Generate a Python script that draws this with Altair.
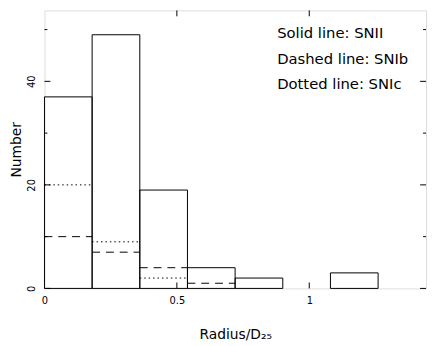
import altair as alt
import pandas as pd

# Histogram bins (Radius/D25)
bin_start = [0.0, 0.18, 0.36, 0.54, 0.72, 0.90, 1.08]
bin_end = [0.18, 0.36, 0.54, 0.72, 0.90, 1.08, 1.26]
snii = [37, 49, 19, 4, 2, 0, 3]
snib = [10, 7, 4, 1, 0, 0, 0]
snic = [20, 9, 2, 0, 0, 0, 0]

legend_lines = ["Solid line: SNII", "Dashed line: SNIb", "Dotted line: SNIc"]

y_major = [0, 20, 40]
y_minor = [10, 30, 50]
x_major = [0.5, 1.0]

XMAX = 1.441
YMAX = 53.71
W, H = 387, 282
FONT = "DejaVu Sans"

df = pd.DataFrame({"x0": bin_start, "x1": bin_end, "SNII": snii, "SNIb": snib, "SNIc": snic})
df_ii = df[df["SNII"] > 0]
df_ib = df[df["SNIb"] > 0]
df_ic = df[df["SNIc"] > 0]

xs = alt.Scale(domain=[0, XMAX], nice=False, zero=False)
ys = alt.Scale(domain=[0, YMAX], nice=False, zero=False)

xaxis = alt.Axis(values=[0, 0.5, 1], labelExpr="datum.value == 0 ? '0' : datum.value == 1 ? '1' : '0.5'",
                 ticks=False, tickSize=0, domain=False, grid=False, labelFontSize=10,
                 labelFont=FONT, labelColor="black", labelPadding=7, labelFlush=False,
                 title="Radius/D₂₅", titleFont=FONT, titleFontSize=14, titleFontWeight="normal",
                 titleColor="black", titlePadding=23)
yaxis = alt.Axis(values=y_major, ticks=False, tickSize=0, domain=False, grid=False, labelFontSize=10,
                 labelFont=FONT, labelColor="black", labelAngle=270, labelAlign="center",
                 labelBaseline="bottom", labelPadding=8, labelFlush=False,
                 title="Number", titleFont=FONT, titleFontSize=14, titleFontWeight="normal",
                 titleColor="black", titlePadding=3)

bars = alt.Chart(df_ii).mark_bar(filled=False, stroke="black", strokeWidth=1).encode(
    x=alt.X("x0:Q", scale=xs, axis=xaxis),
    x2="x1:Q",
    y=alt.Y("SNII:Q", scale=ys, axis=yaxis),
    y2=alt.datum(0),
)

dashed = alt.Chart(df_ib).mark_rule(stroke="black", strokeWidth=1, strokeDash=[8, 6]).encode(
    x=alt.X("x0:Q", scale=xs), x2="x1:Q", y=alt.Y("SNIb:Q", scale=ys)
)
dotted = alt.Chart(df_ic).mark_rule(stroke="black", strokeWidth=1, strokeDash=[1.5, 3]).encode(
    x=alt.X("x0:Q", scale=xs), x2="x1:Q", y=alt.Y("SNIc:Q", scale=ys)
)

# inward ticks
ymaj = pd.DataFrame({"v": y_major})
ymin = pd.DataFrame({"v": y_minor})
xmaj = pd.DataFrame({"v": x_major})
tick_layers = []
for d, ln in [(ymaj, 6), (ymin, 3)]:
    tick_layers.append(alt.Chart(d).mark_rule(stroke="black", strokeWidth=1).encode(
        y=alt.Y("v:Q", scale=ys), x=alt.value(0), x2=alt.value(ln)))
    tick_layers.append(alt.Chart(d).mark_rule(stroke="black", strokeWidth=1).encode(
        y=alt.Y("v:Q", scale=ys), x=alt.value(W - ln), x2=alt.value(W)))
tick_layers.append(alt.Chart(xmaj).mark_rule(stroke="black", strokeWidth=1).encode(
    x=alt.X("v:Q", scale=xs), y=alt.value(H - 6), y2=alt.value(H)))
tick_layers.append(alt.Chart(xmaj).mark_rule(stroke="black", strokeWidth=1).encode(
    x=alt.X("v:Q", scale=xs), y=alt.value(0), y2=alt.value(6)))

leg = pd.DataFrame({"t": legend_lines, "py": [28, 54, 80]})
legend = alt.Chart(leg).mark_text(align="left", baseline="alphabetic", font=FONT, fontSize=15,
                                  color="black").encode(
    text="t:N", x=alt.value(236), y=alt.Y("py:Q", scale=None)
)

chart = alt.layer(bars, dashed, dotted, *tick_layers, legend).properties(
    width=W, height=H,
    autosize=alt.AutoSizeParams(type="none"),
    padding={"left": 37, "top": 0, "right": 2, "bottom": 56},
).configure_view(stroke="black", strokeWidth=1).configure(background="white")

chart.save("out.html", embed_options={"renderer": "svg", "actions": False})
